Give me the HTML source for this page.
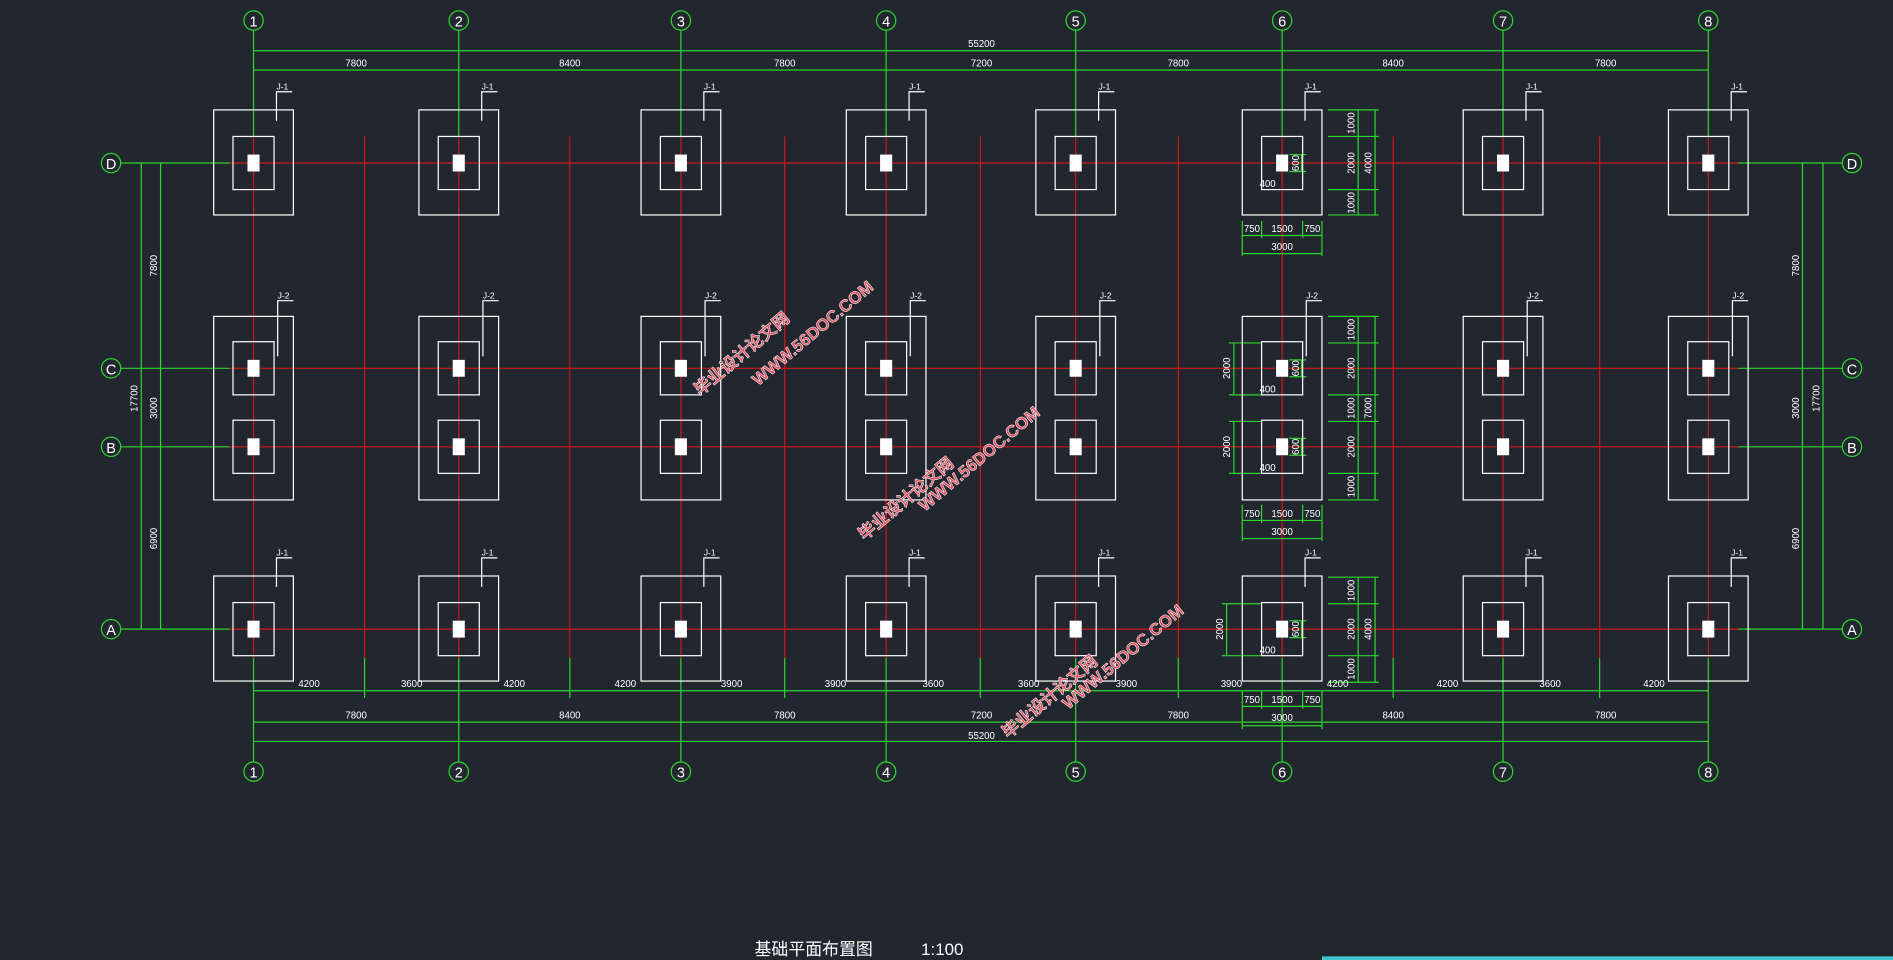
<!DOCTYPE html>
<html><head><meta charset="utf-8"><style>
html,body{margin:0;padding:0;background:#22272f;overflow:hidden}
svg{display:block}
text{font-family:"Liberation Sans","Noto Sans CJK SC",sans-serif;fill:#fff}
</style></head><body>
<svg width="1893" height="960" viewBox="0 0 1568 795" preserveAspectRatio="none" xmlns="http://www.w3.org/2000/svg">
<rect width="1568" height="795" fill="#22272f"/>
<g stroke="#d01818" stroke-width="1" fill="none">
<line x1="190" y1="135" x2="1440" y2="135"/>
<line x1="190" y1="305" x2="1440" y2="305"/>
<line x1="190" y1="370" x2="1440" y2="370"/>
<line x1="190" y1="521" x2="1440" y2="521"/>
<line x1="210" y1="113" x2="210" y2="545"/><line x1="380" y1="113" x2="380" y2="545"/>
<line x1="564" y1="113" x2="564" y2="545"/><line x1="734" y1="113" x2="734" y2="545"/>
<line x1="891" y1="113" x2="891" y2="545"/><line x1="1062" y1="113" x2="1062" y2="545"/>
<line x1="1245" y1="113" x2="1245" y2="545"/><line x1="1415" y1="113" x2="1415" y2="545"/>
<line x1="302" y1="113" x2="302" y2="545"/><line x1="472" y1="113" x2="472" y2="545"/>
<line x1="650" y1="113" x2="650" y2="545"/><line x1="812" y1="113" x2="812" y2="545"/>
<line x1="976" y1="113" x2="976" y2="545"/><line x1="1154" y1="113" x2="1154" y2="545"/>
<line x1="1325" y1="113" x2="1325" y2="545"/>
</g>
<g stroke="#2ed62e" stroke-width="1" fill="none">
<line x1="210" y1="42" x2="1415" y2="42"/><line x1="210" y1="58" x2="1415" y2="58"/>
<line x1="210" y1="572" x2="1415" y2="572"/><line x1="210" y1="598" x2="1415" y2="598"/><line x1="210" y1="614" x2="1415" y2="614"/>
<path d="M210 25V113M380 25V113M564 25V113M734 25V113M891 25V113M1062 25V113M1245 25V113M1415 25V113"/>
<path d="M210 545V631M380 545V631M564 545V631M734 545V631M891 545V631M1062 545V631M1245 545V631M1415 545V631"/>
<path d="M302 545V578M472 545V578M650 545V578M812 545V578M976 545V578M1154 545V578M1325 545V578"/>
<path d="M100 135H190M100 305H190M100 370H190M100 521H190"/>
<path d="M117 135V521M133 135V521"/>
<path d="M1440 135H1526M1440 305H1526M1440 370H1526M1440 521H1526"/>
<path d="M1493 135V521M1510 135V521"/>
<circle cx="210" cy="17" r="8"/><circle cx="380" cy="17" r="8"/><circle cx="564" cy="17" r="8"/><circle cx="734" cy="17" r="8"/>
<circle cx="891" cy="17" r="8"/><circle cx="1062" cy="17" r="8"/><circle cx="1245" cy="17" r="8"/><circle cx="1415" cy="17" r="8"/>
<circle cx="210" cy="639" r="8"/><circle cx="380" cy="639" r="8"/><circle cx="564" cy="639" r="8"/><circle cx="734" cy="639" r="8"/>
<circle cx="891" cy="639" r="8"/><circle cx="1062" cy="639" r="8"/><circle cx="1245" cy="639" r="8"/><circle cx="1415" cy="639" r="8"/>
<circle cx="92" cy="135" r="8"/><circle cx="92" cy="305" r="8"/><circle cx="92" cy="370" r="8"/><circle cx="92" cy="521" r="8"/>
<circle cx="1534" cy="135" r="8"/><circle cx="1534" cy="305" r="8"/><circle cx="1534" cy="370" r="8"/><circle cx="1534" cy="521" r="8"/>
<path d="M1100 91H1142M1100 113H1142M1100 157H1142M1100 178H1142M1125 91V178M1139 91V178"/>
<path d="M1100 262H1142M1100 284H1142M1100 327H1142M1100 349H1142M1100 392H1142M1100 414H1142M1125 262V414M1139 262V414"/>
<path d="M1100 478H1142M1100 500H1142M1100 543H1142M1100 565H1142M1125 478V565M1139 478V565"/>
<path d="M1029 183V212M1045 183V197M1079 183V197M1095 183V212M1029 195H1095M1029 210H1095"/>
<path d="M1029 418V448M1045 418V433M1079 418V433M1095 418V448M1029 431H1095M1029 446H1095"/>
<path d="M1029 572V604M1045 572V587M1079 572V587M1095 572V604M1029 585H1095M1029 601H1095"/>
<path d="M1018 284H1045M1018 327H1045M1022 284V327M1018 349H1045M1018 392H1045M1022 349V392M1012 500H1045M1012 543H1045M1016 500V543"/>
<path d="M1068 128H1082M1068 142H1082M1078 128V142M1068 298H1082M1068 312H1082M1078 298V312M1068 363H1082M1068 377H1082M1078 363V377M1068 514H1082M1068 528H1082M1078 514V528"/>
</g>
<defs>
<g id="J1"><rect x="-33" y="-44" width="66" height="87" fill="none" stroke="#fff"/><rect x="-17" y="-22" width="34" height="44" fill="none" stroke="#fff"/><path d="M19 -35V-59H32" fill="none" stroke="#fff"/><rect x="-5" y="-7" width="10" height="14" fill="#fff"/><text x="19" y="-61" font-size="7">J-1</text></g>
<g id="J2"><rect x="-33" y="-43" width="66" height="152" fill="none" stroke="#fff"/><rect x="-17" y="-22" width="34" height="44" fill="none" stroke="#fff"/><rect x="-17" y="43" width="34" height="44" fill="none" stroke="#fff"/><path d="M20 -10V-56H33" fill="none" stroke="#fff"/><rect x="-5" y="-7" width="10" height="14" fill="#fff"/><rect x="-5" y="58" width="10" height="14" fill="#fff"/><text x="20" y="-58" font-size="7">J-2</text></g>
</defs>
<g>
<use href="#J1" x="210" y="135"/><use href="#J1" x="380" y="135"/><use href="#J1" x="564" y="135"/><use href="#J1" x="734" y="135"/><use href="#J1" x="891" y="135"/><use href="#J1" x="1062" y="135"/><use href="#J1" x="1245" y="135"/><use href="#J1" x="1415" y="135"/>
<use href="#J2" x="210" y="305"/><use href="#J2" x="380" y="305"/><use href="#J2" x="564" y="305"/><use href="#J2" x="734" y="305"/><use href="#J2" x="891" y="305"/><use href="#J2" x="1062" y="305"/><use href="#J2" x="1245" y="305"/><use href="#J2" x="1415" y="305"/>
<use href="#J1" x="210" y="521"/><use href="#J1" x="380" y="521"/><use href="#J1" x="564" y="521"/><use href="#J1" x="734" y="521"/><use href="#J1" x="891" y="521"/><use href="#J1" x="1062" y="521"/><use href="#J1" x="1245" y="521"/><use href="#J1" x="1415" y="521"/>
</g>
<g font-size="12" text-anchor="middle">
<text x="210" y="22">1</text><text x="380" y="22">2</text><text x="564" y="22">3</text><text x="734" y="22">4</text><text x="891" y="22">5</text><text x="1062" y="22">6</text><text x="1245" y="22">7</text><text x="1415" y="22">8</text>
<text x="210" y="644">1</text><text x="380" y="644">2</text><text x="564" y="644">3</text><text x="734" y="644">4</text><text x="891" y="644">5</text><text x="1062" y="644">6</text><text x="1245" y="644">7</text><text x="1415" y="644">8</text>
<text x="92" y="140">D</text><text x="92" y="310">C</text><text x="92" y="375">B</text><text x="92" y="526">A</text>
<text x="1534" y="140">D</text><text x="1534" y="310">C</text><text x="1534" y="375">B</text><text x="1534" y="526">A</text>
</g>
<g font-size="8" text-anchor="middle">
<text x="813" y="39">55200</text>
<text x="295" y="55">7800</text><text x="472" y="55">8400</text><text x="650" y="55">7800</text><text x="813" y="55">7200</text><text x="976" y="55">7800</text><text x="1154" y="55">8400</text><text x="1330" y="55">7800</text>
<text x="295" y="595">7800</text><text x="472" y="595">8400</text><text x="650" y="595">7800</text><text x="813" y="595">7200</text><text x="976" y="595">7800</text><text x="1154" y="595">8400</text><text x="1330" y="595">7800</text>
<text x="813" y="612">55200</text>
<text x="256" y="569">4200</text><text x="341" y="569">3600</text><text x="426" y="569">4200</text><text x="518" y="569">4200</text><text x="606" y="569">3900</text><text x="692" y="569">3900</text><text x="773" y="569">3600</text><text x="852" y="569">3600</text><text x="933" y="569">3900</text><text x="1020" y="569">3900</text><text x="1108" y="569">4200</text><text x="1199" y="569">4200</text><text x="1284" y="569">3600</text><text x="1370" y="569">4200</text>
<text x="1037" y="192">750</text><text x="1062" y="192">1500</text><text x="1087" y="192">750</text><text x="1062" y="207">3000</text>
<text x="1037" y="428">750</text><text x="1062" y="428">1500</text><text x="1087" y="428">750</text><text x="1062" y="443">3000</text>
<text x="1037" y="582">750</text><text x="1062" y="582">1500</text><text x="1087" y="582">750</text><text x="1062" y="597">3000</text>
<text x="1050" y="155">400</text><text x="1050" y="325">400</text><text x="1050" y="390">400</text><text x="1050" y="541">400</text>
</g>
<g font-size="8" text-anchor="middle">
<text transform="translate(130,220) rotate(-90)">7800</text><text transform="translate(130,338) rotate(-90)">3000</text><text transform="translate(130,446) rotate(-90)">6900</text><text transform="translate(114,330) rotate(-90)">17700</text>
<text transform="translate(1490,220) rotate(-90)">7800</text><text transform="translate(1490,338) rotate(-90)">3000</text><text transform="translate(1490,446) rotate(-90)">6900</text><text transform="translate(1507,330) rotate(-90)">17700</text>
<text transform="translate(1122,102) rotate(-90)">1000</text><text transform="translate(1122,135) rotate(-90)">2000</text><text transform="translate(1122,168) rotate(-90)">1000</text><text transform="translate(1136,135) rotate(-90)">4000</text>
<text transform="translate(1122,273) rotate(-90)">1000</text><text transform="translate(1122,305) rotate(-90)">2000</text><text transform="translate(1122,338) rotate(-90)">1000</text><text transform="translate(1122,370) rotate(-90)">2000</text><text transform="translate(1122,403) rotate(-90)">1000</text><text transform="translate(1136,338) rotate(-90)">7000</text>
<text transform="translate(1122,489) rotate(-90)">1000</text><text transform="translate(1122,521) rotate(-90)">2000</text><text transform="translate(1122,554) rotate(-90)">1000</text><text transform="translate(1136,521) rotate(-90)">4000</text>
<text transform="translate(1019,305) rotate(-90)">2000</text><text transform="translate(1019,370) rotate(-90)">2000</text><text transform="translate(1013,521) rotate(-90)">2000</text>
<text transform="translate(1076,135) rotate(-90)">600</text><text transform="translate(1076,305) rotate(-90)">600</text><text transform="translate(1076,370) rotate(-90)">600</text><text transform="translate(1076,521) rotate(-90)">600</text>
</g>
<g font-weight="bold" stroke="#fff" stroke-width="0.4" font-size="14">
<text transform="translate(580,328) rotate(-40)" style="fill:#e05868">毕业设计论文网</text>
<text transform="translate(628,320) rotate(-40)" style="fill:#e05868">WWW.56DOC.COM</text>
<text transform="translate(716,448) rotate(-40)" style="fill:#e05868">毕业设计论文网</text>
<text transform="translate(766,424) rotate(-40)" style="fill:#e05868">WWW.56DOC.COM</text>
<text transform="translate(835,612) rotate(-40)" style="fill:#e05868">毕业设计论文网</text>
<text transform="translate(885,588) rotate(-40)" style="fill:#e05868">WWW.56DOC.COM</text>
</g>
<text x="625" y="791" font-size="14">基础平面布置图</text>
<text x="763" y="791" font-size="14">1:100</text>
<rect x="1095" y="792" width="473" height="3" fill="#3cc8d0"/>
</svg>
</body></html>
